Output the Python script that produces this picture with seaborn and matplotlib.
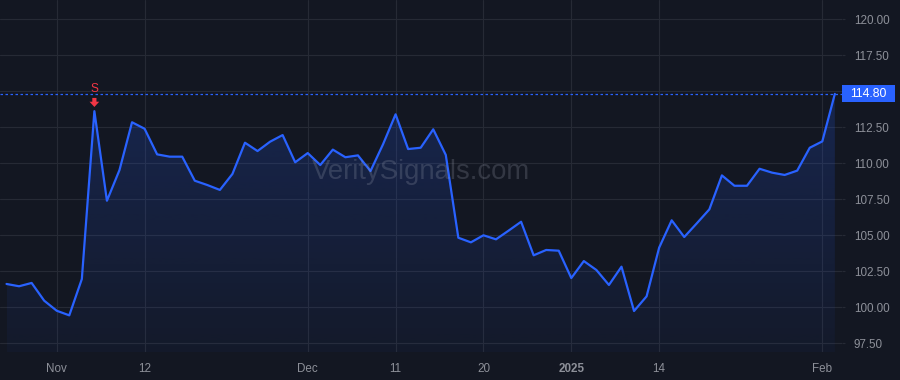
import numpy as np
import pandas as pd
import seaborn as sns
import matplotlib
matplotlib.use("Agg")
import matplotlib.pyplot as plt
from matplotlib.patches import Rectangle
import matplotlib.transforms as mtransforms

# ---------------- data ----------------
holidays = ["2024-11-28", "2024-12-25", "2025-01-01", "2025-01-09", "2025-01-20"]
dates = pd.bdate_range("2024-10-28", "2025-02-04", freq="C", holidays=holidays)

prices = [101.60, 101.44, 101.67, 100.44, 99.74, 99.42, 101.94, 113.60, 107.38, 109.51,
          112.83, 112.38, 110.60, 110.44, 110.44, 108.77, 108.47, 108.13, 109.24, 111.41,
          110.83, 111.48, 111.94, 110.05, 110.69, 109.86, 110.93, 110.40, 110.53, 109.44,
          111.30, 113.38, 110.97, 111.06, 112.34, 110.56, 104.81, 104.49, 104.98, 104.70,
          105.30, 105.92, 103.59, 103.96, 103.91, 102.01, 103.19, 102.57, 101.53, 102.80,
          99.72, 100.74, 104.12, 106.02, 104.86, 105.81, 106.78, 109.14, 108.42, 108.42,
          109.60, 109.33, 109.17, 109.47, 111.06, 111.50, 114.80]

tick_dates = ["2024-11-01", "2024-11-12", "2024-12-02", "2024-12-11",
              "2024-12-20", "2025-01-02", "2025-01-14", "2025-02-03"]
tick_labels = ["Nov", "12", "Dec", "11", "20", "2025", "14", "Feb"]

y_ticks = [97.5, 100.0, 102.5, 105.0, 107.5, 110.0, 112.5, 115.0, 117.5, 120.0]
last_price = 114.80
signal_date = "2024-11-06"
signal_label = "S"

df = pd.DataFrame({"date": dates, "price": prices})
df["idx"] = np.arange(len(df))
date_to_idx = {d.strftime("%Y-%m-%d"): i for i, d in enumerate(dates)}

# ---------------- style ----------------
BG = "#131722"
GRID = "#262a35"
LINE = "#2962FF"
TEXT = "#8d9099"
RED = "#f23645"

sns.set_theme(style="dark")
plt.rcParams["font.family"] = ["Liberation Sans", "DejaVu Sans"]

fig = plt.figure(figsize=(9, 3.8), dpi=100, facecolor=BG)
ax = fig.add_axes([0.0, 1 - 352 / 380, 842 / 900, 352 / 380])
ax.set_facecolor(BG)

sns.lineplot(data=df, x="idx", y="price", ax=ax, color=LINE, linewidth=1.6, zorder=4)

ylo, yhi = 96.875, 121.32

# gradient area fill
poly = ax.fill_between(df["idx"], df["price"], ylo, color="none", linewidth=0)
grad = np.linspace(0.04, 0.20, 256).reshape(-1, 1)
rgba = np.zeros((256, 1, 4))
rgba[..., 0] = 41 / 255
rgba[..., 1] = 98 / 255
rgba[..., 2] = 1.0
rgba[..., 3] = grad
img = ax.imshow(rgba, aspect="auto", origin="lower",
                extent=[df["idx"].iloc[0], df["idx"].iloc[-1], ylo, max(prices)],
                zorder=2)
path = poly.get_paths()[0]
img.set_clip_path(path, transform=ax.transData)
ax.set_xlim(-0.52, 66.57)
ax.set_ylim(ylo, yhi)

# grid
ax.set_yticks(y_ticks)
ax.set_yticklabels(["" if abs(v - 115.0) < 1e-6 else f"{v:.2f}" for v in y_ticks])
ax.set_xticks([date_to_idx[d] for d in tick_dates])
ax.set_xticklabels(tick_labels)
ax.grid(True, color=GRID, linewidth=0.8)
ax.set_axisbelow(True)
for s in ax.spines.values():
    s.set_visible(False)

ax.yaxis.tick_right()
ax.tick_params(axis="y", colors=GRID, labelcolor=TEXT, labelsize=8.4,
               length=2.5, width=0.8, pad=6, right=True, left=False)
ax.tick_params(axis="x", colors=GRID, labelcolor=TEXT, labelsize=8.4,
               length=0, pad=8)
for lab in ax.get_xticklabels():
    if lab.get_text() == "2025":
        lab.set_fontweight("bold")
ax.set_xlabel("")
ax.set_ylabel("")

# last price dotted line & label
ax.axhline(last_price, color=LINE, linewidth=0.9, linestyle=(0, (2, 2)), zorder=3)
trans = mtransforms.blended_transform_factory(ax.transAxes, ax.transData)
box_h = 17 / 14.4
ax.add_patch(Rectangle((1.0, last_price - box_h / 2), 53 / 842, box_h,
                       transform=trans, facecolor=LINE, edgecolor="none",
                       clip_on=False, zorder=6))
ax.text(1.0 + 26.5 / 842, last_price, f"{last_price:.2f}", transform=trans,
        ha="center", va="center", color="white", fontsize=8.8, zorder=7,
        clip_on=False)

# signal marker
si = date_to_idx[signal_date]
sp = prices[si]
ax.annotate("", xy=(si, sp + 0.29), xytext=(si, sp + 0.92),
            arrowprops=dict(width=3.0, headwidth=7.0, headlength=3.8,
                            facecolor=RED, edgecolor=RED, linewidth=0,
                            shrink=0.0),
            zorder=6)
ax.text(si, sp + 1.55, signal_label, color=RED, fontsize=8.6, ha="center",
        va="center", zorder=6)

# watermark
fig.text(421 / 900, 1 - 172 / 380, "VeritySignals.com", color="#9aa0b0", alpha=0.24,
         fontsize=19.8, ha="center", va="center", zorder=1)

fig.savefig("out.png", dpi=100, facecolor=BG)
